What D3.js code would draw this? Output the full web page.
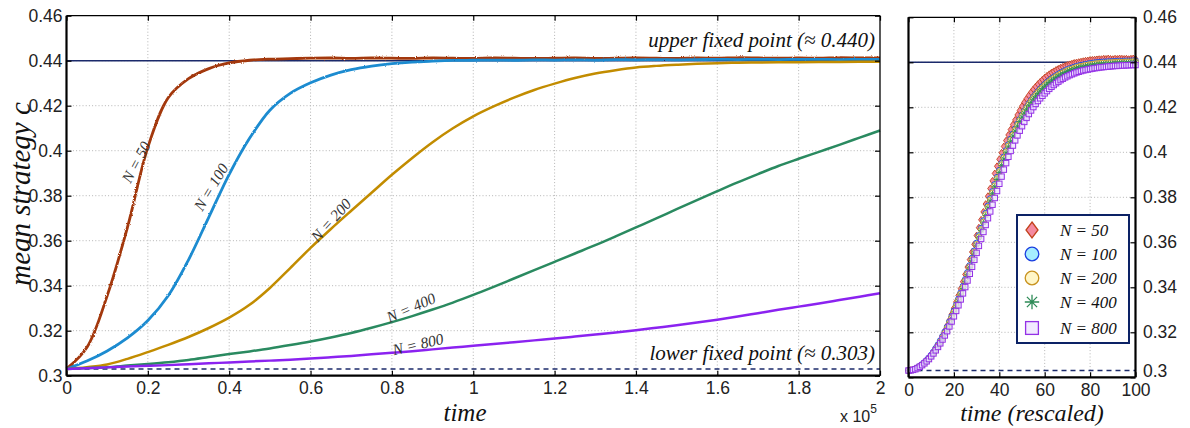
<!DOCTYPE html>
<html><head><meta charset="utf-8">
<script src="https://cdn.jsdelivr.net/npm/d3@7"></script>
<style>body{margin:0;background:#fff}</style>
</head><body>
<svg id="c" width="1190" height="428" xmlns="http://www.w3.org/2000/svg"></svg>
<script>
// ---------- data: left panel (time in units of 10^5) ----------
const timeGrid = [0,0.05,0.1,0.15,0.2,0.25,0.3,0.35,0.4,0.45,0.5,0.55,0.6,0.65,0.7,0.75,0.8,0.85,0.9,0.95,1,1.05,1.1,1.15,1.2,1.25,1.3,1.35,1.4,1.45,1.5,1.55,1.6,1.65,1.7,1.75,1.8,1.85,1.9,1.95,2];
const seriesN = ["50","100","200","400","800"];
const meanN50 = [.303,.3125,.3355,.366,.4015,.4235,.4320,.4365,.4390,.4402,.4407,.4409,.4411,.4412,.4410,.4412,.4411,.4410,.4412,.4411,.4410,.4412,.4411,.4410,.4411,.4412,.4410,.4411,.4412,.4411,.4410,.4412,.4411,.4413,.4412,.4411,.4412,.4411,.4413,.4412,.4412];
const meanN100 = [.303,.3065,.311,.3168,.3245,.3355,.3515,.3705,.3895,.4055,.4180,.4255,.4302,.4336,.4360,.4376,.4387,.4394,.4398,.4401,.4402,.4403,.4402,.4404,.4403,.4404,.4403,.4405,.4404,.4405,.4404,.4405,.4406,.4405,.4406,.4405,.4406,.4406,.4405,.4406,.4406];
const meanN200 = [.303,.3038,.305,.3075,.3105,.3137,.3172,.3212,.3258,.3315,.3390,.3478,.3568,.3652,.3733,.3813,.3893,.3968,.4038,.4100,.4153,.4197,.4236,.4270,.4298,.4323,.4343,.4358,.4370,.4377,.4382,.4386,.4389,.4391,.4392,.4393,.4393,.4394,.4394,.4395,.4395];
const meanN400 = [.303,.3034,.3038,.3045,.3052,.3060,.3070,.3083,.3096,.3108,.3121,.3136,.3152,.3170,.3190,.3213,.3238,.3265,.3294,.3325,.3359,.3395,.3432,.3469,.3506,.3543,.3580,.3619,.3659,.3699,.3740,.3780,.3820,.3859,.3896,.3932,.3964,.3995,.4026,.4058,.4090];
const meanN800 = [.303,.3033,.3037,.3041,.3044,.3047,.3051,.3055,.3059,.3063,.3067,.3071,.3076,.3082,.3088,.3095,.3102,.3109,.3117,.3125,.3133,.3141,.3149,.3157,.3165,.3174,.3183,.3192,.3202,.3213,.3224,.3236,.3249,.3263,.3278,.3293,.3307,.3321,.3336,.3351,.3366];
const upperFixed = 0.440, lowerFixed = 0.303;
// curve label anchors (time, value) and angles
const labelT = [0.171,0.355,0.650,0.847,0.864];
const labelV = [0.395,0.3839,0.3692,0.3303,0.3141];
const labelAngle = [-62,-59,-48,-24,-13];

// ---------- data: right panel (rescaled time 0..100) ----------
const rescaledTime = d3.range(0, 101, 1);
const resN50 = [.3030,.3032,.3035,.3039,.3044,.3050,.3057,.3065,.3075,.3086,.3098,.3112,.3128,.3145,.3164,.3185,.3207,.3230,.3254,.3280,.3307,.3335,.3364,.3394,.3425,.3457,.3490,.3523,.3557,.3591,.3630,.3665,.3700,.3735,.3770,.3805,.3839,.3873,.3906,.3938,.3969,.3998,.4026,.4052,.4077,.4101,.4123,.4144,.4166,.4186,.4205,.4222,.4238,.4253,.4267,.4280,.4292,.4303,.4313,.4323,.4332,.4340,.4347,.4354,.4360,.4366,.4371,.4376,.4380,.4384,.4388,.4391,.4394,.4397,.4399,.4401,.4403,.4405,.4407,.4408,.4410,.4411,.4412,.4413,.4414,.4414,.4416,.4415,.4417,.4415,.4414,.4416,.4415,.4417,.4416,.4415,.4416,.4414,.4416,.4417,.4415];
const resN100 = [.3030,.3031,.3034,.3038,.3043,.3050,.3057,.3066,.3076,.3087,.3099,.3113,.3129,.3145,.3163,.3182,.3202,.3223,.3246,.3270,.3295,.3321,.3348,.3376,.3405,.3435,.3466,.3497,.3530,.3562,.3597,.3630,.3663,.3696,.3729,.3762,.3794,.3826,.3857,.3889,.3920,.3951,.3980,.4008,.4034,.4059,.4082,.4104,.4126,.4146,.4165,.4183,.4200,.4216,.4231,.4245,.4258,.4270,.4281,.4292,.4302,.4311,.4319,.4327,.4334,.4341,.4347,.4353,.4358,.4363,.4368,.4372,.4375,.4379,.4382,.4385,.4387,.4389,.4391,.4393,.4395,.4396,.4398,.4399,.4400,.4401,.4402,.4402,.4403,.4403,.4404,.4404,.4405,.4405,.4405,.4406,.4406,.4406,.4406,.4407,.4407];
const resN200 = [.3030,.3031,.3034,.3037,.3042,.3048,.3055,.3063,.3073,.3083,.3095,.3109,.3124,.3140,.3157,.3176,.3196,.3217,.3240,.3264,.3289,.3315,.3342,.3370,.3399,.3429,.3460,.3491,.3524,.3556,.3591,.3624,.3657,.3690,.3723,.3756,.3788,.3820,.3851,.3883,.3914,.3945,.3974,.4002,.4028,.4053,.4076,.4098,.4120,.4141,.4160,.4178,.4195,.4211,.4226,.4240,.4253,.4265,.4276,.4287,.4297,.4306,.4314,.4322,.4329,.4336,.4342,.4348,.4353,.4358,.4363,.4367,.4370,.4374,.4377,.4380,.4382,.4384,.4386,.4388,.4390,.4391,.4393,.4394,.4395,.4396,.4397,.4397,.4398,.4398,.4399,.4400,.4400,.4401,.4401,.4401,.4402,.4402,.4402,.4403,.4403];
const resN400 = [.3030,.3031,.3033,.3036,.3041,.3046,.3052,.3060,.3069,.3079,.3091,.3105,.3120,.3136,.3153,.3172,.3192,.3213,.3236,.3260,.3285,.3311,.3338,.3366,.3395,.3425,.3456,.3487,.3520,.3552,.3587,.3620,.3653,.3686,.3719,.3752,.3784,.3816,.3847,.3879,.3910,.3941,.3970,.3998,.4024,.4049,.4072,.4094,.4116,.4137,.4156,.4174,.4191,.4207,.4222,.4236,.4249,.4261,.4272,.4283,.4293,.4302,.4310,.4318,.4325,.4332,.4338,.4344,.4349,.4354,.4359,.4363,.4366,.4370,.4373,.4376,.4378,.4380,.4382,.4384,.4386,.4387,.4389,.4390,.4391,.4392,.4393,.4393,.4394,.4394,.4395,.4396,.4396,.4397,.4397,.4397,.4398,.4398,.4398,.4399,.4399];
const resN800 = [.3030,.3031,.3033,.3036,.3041,.3047,.3054,.3062,.3071,.3081,.3093,.3106,.3120,.3135,.3151,.3168,.3186,.3205,.3226,.3248,.3271,.3295,.3320,.3346,.3373,.3401,.3430,.3460,.3491,.3522,.3553,.3584,.3615,.3646,.3677,.3707,.3737,.3767,.3797,.3828,.3860,.3892,.3923,.3952,.3980,.4006,.4030,.4053,.4075,.4096,.4116,.4135,.4153,.4170,.4186,.4201,.4215,.4228,.4240,.4251,.4262,.4272,.4282,.4291,.4299,.4307,.4314,.4321,.4327,.4333,.4338,.4343,.4347,.4351,.4355,.4358,.4361,.4364,.4366,.4368,.4370,.4372,.4374,.4375,.4377,.4378,.4379,.4380,.4381,.4382,.4383,.4384,.4384,.4385,.4386,.4386,.4387,.4387,.4388,.4388,.4388];

// ---------- ticks ----------
const leftXTicks = [0,0.2,0.4,0.6,0.8,1,1.2,1.4,1.6,1.8,2];
const leftXLabels = ["0","0.2","0.4","0.6","0.8","1","1.2","1.4","1.6","1.8","2"];
const yTicks = [0.3,0.32,0.34,0.36,0.38,0.4,0.42,0.44,0.46];
const yLabels = ["0.3","0.32","0.34","0.36","0.38","0.4","0.42","0.44","0.46"];
const rightXTicks = [0,20,40,60,80,100];
const rightXLabels = ["0","20","40","60","80","100"];

// ---------- styles ----------
const lineColors = ["#A3380B","#1B8BD0","#C28C05","#2A8A60","#8B24F0"];
const lineRough = [2.6,2.2,1.4,1.0,1.0];
const navy = "#1B2A6B";
const tickFont = "Liberation Sans";
const serif = "Liberation Serif";

const svg = d3.select("#c");
svg.append("rect").attr("width",1190).attr("height",428).attr("fill","#fff");

// roughening filters to mimic the stochastic jitter of simulated trajectories
const defs = svg.append("defs");
lineRough.forEach((sc,k) => {
  const f = defs.append("filter").attr("id","rough"+k).attr("x","-2%").attr("y","-10%").attr("width","104%").attr("height","120%");
  f.append("feTurbulence").attr("type","fractalNoise").attr("baseFrequency","0.9 0.9").attr("numOctaves",1).attr("seed",k+3).attr("result","n");
  f.append("feDisplacementMap").attr("in","SourceGraphic").attr("in2","n").attr("scale",sc).attr("xChannelSelector","R").attr("yChannelSelector","G");
});

const L = {x0:66.5, x1:880, y0:15.7, y1:375.7};
const R = {x0:908.5, x1:1135.5, y0:17.3, y1:377.3};

const xL = d3.scaleLinear().domain([0,2]).range([L.x0,L.x1]);
const yL = d3.scaleLinear().domain([0.3,0.46]).range([L.y1,L.y0]);
const xR = d3.scaleLinear().domain([0,100]).range([R.x0,R.x1]);
const yR = d3.scaleLinear().domain([0.3,0.46]).range([R.y1,R.y0]);

function grid(P, xs, ys, xt, yt) {
  const g = svg.append("g").attr("stroke","#b4b4b4").attr("stroke-width",1).attr("stroke-dasharray","1,2.2");
  xt.forEach(t => { const x = xs(t); if (x > P.x0+1 && x < P.x1-1) g.append("line").attr("x1",x).attr("x2",x).attr("y1",P.y0).attr("y2",P.y1); });
  yt.forEach(t => { const y = ys(t); if (y > P.y0+1 && y < P.y1-1) g.append("line").attr("x1",P.x0).attr("x2",P.x1).attr("y1",y).attr("y2",y); });
}
grid(L, xL, yL, leftXTicks, yTicks);
grid(R, xR, yR, rightXTicks, yTicks);

// fixed point lines
[[L,xL,yL,[0,2]],[R,xR,yR,[0,100]]].forEach(([P,xs,ys,dom]) => {
  svg.append("line").attr("x1",xs(dom[0])).attr("x2",xs(dom[1])).attr("y1",ys(upperFixed)).attr("y2",ys(upperFixed))
    .attr("stroke",navy).attr("stroke-width",1.6);
  svg.append("line").attr("x1",xs(dom[0])).attr("x2",xs(dom[1])).attr("y1",ys(lowerFixed)).attr("y2",ys(lowerFixed))
    .attr("stroke",navy).attr("stroke-width",1.4).attr("stroke-dasharray","5,4");
});

// left curves
const leftSeries = [meanN50, meanN100, meanN200, meanN400, meanN800];
const line = d3.line().x((d,i)=>xL(timeGrid[i])).y(d=>yL(d)).curve(d3.curveCatmullRom.alpha(0.5));
leftSeries.forEach((s,k) => {
  svg.append("path").attr("d", line(s)).attr("fill","none").attr("stroke",lineColors[k])
    .attr("stroke-width",k<2?2.8:2.5).attr("stroke-linejoin","round").attr("filter",`url(#rough${k})`);
});

// curve labels
seriesN.forEach((n,k) => {
  svg.append("text").attr("transform",`translate(${xL(labelT[k])},${yL(labelV[k])}) rotate(${labelAngle[k]})`)
    .attr("text-anchor","middle").attr("dominant-baseline","central")
    .attr("font-family",serif).attr("font-style","italic").attr("font-size",15.5).attr("fill","#333")
    .text(`N = ${n}`);
});

// fixed point annotations
svg.append("text").attr("x",875).attr("y",yL(upperFixed)-14).attr("text-anchor","end")
  .attr("font-family",serif).attr("font-style","italic").attr("font-size",21).attr("fill","#111")
  .text("upper fixed point (\u2248 0.440)");
svg.append("text").attr("x",875).attr("y",yL(lowerFixed)-9).attr("text-anchor","end")
  .attr("font-family",serif).attr("font-style","italic").attr("font-size",21).attr("fill","#111")
  .text("lower fixed point (\u2248 0.303)");

// right panel markers
const markerStyles = [
  {type:"diamond", fill:"#F48AA0", stroke:"#C2421C"},
  {type:"circle", fill:"#A6EEFF", stroke:"#1A3FE0"},
  {type:"circle", fill:"#FFF6C8", stroke:"#C8921E"},
  {type:"star", fill:"none", stroke:"#2E8B57"},
  {type:"square", fill:"#ECE2FF", stroke:"#9431E6"}
];
function drawMarker(g, st, x, y, s) {
  if (st.type === "diamond") {
    g.append("path").attr("d",`M${x},${y-s}L${x+s*0.75},${y}L${x},${y+s}L${x-s*0.75},${y}Z`)
      .attr("fill",st.fill).attr("stroke",st.stroke).attr("stroke-width",s>5?1.3:0.9);
  } else if (st.type === "circle") {
    g.append("circle").attr("cx",x).attr("cy",y).attr("r",s*0.85).attr("fill",st.fill).attr("stroke",st.stroke).attr("stroke-width",s>5?1.3:0.9);
  } else if (st.type === "square") {
    g.append("rect").attr("x",x-s*0.8).attr("y",y-s*0.8).attr("width",s*1.6).attr("height",s*1.6)
      .attr("fill",st.fill).attr("fill-opacity",0.75).attr("stroke",st.stroke).attr("stroke-width",s>5?1.3:1);
  } else {
    let d = "";
    [0,45,90,135].forEach(a => { const r=a*Math.PI/180, dx=Math.cos(r)*s*0.9, dy=Math.sin(r)*s*0.9; d += `M${x-dx},${y-dy}L${x+dx},${y+dy}`; });
    g.append("path").attr("d",d).attr("stroke",st.stroke).attr("stroke-width",s>5?1.3:0.9).attr("fill","none");
  }
}
const rightSeries = [resN50, resN100, resN200, resN400, resN800];
rightSeries.forEach((s,k) => {
  const g = svg.append("g");
  s.forEach((v,i) => drawMarker(g, markerStyles[k], xR(rescaledTime[i]), yR(v), 3.4));
});

// legend
const lg = svg.append("g");
lg.append("rect").attr("x",1017).attr("y",215).attr("width",112).attr("height",128).attr("fill","#fff").attr("stroke","#0C2265").attr("stroke-width",2);
const legY = [230,254,278,302,328];
seriesN.forEach((n,k) => {
  drawMarker(lg, markerStyles[k], 1032, legY[k], 8);
  lg.append("text").attr("x",1060).attr("y",legY[k]).attr("dominant-baseline","central")
    .attr("font-family",serif).attr("font-style","italic").attr("font-size",17).attr("fill","#111").text(`N = ${n}`);
});

// axes
function axes(P, xs, ys, xt, xl, yt, yl, yRight) {
  const gx = svg.append("g").attr("transform",`translate(0,${P.y1})`)
    .call(d3.axisBottom(xs).tickValues(xt).tickFormat((d,i)=>xl[i]).tickSize(-5).tickPadding(6));
  const gxt = svg.append("g").attr("transform",`translate(0,${P.y0})`)
    .call(d3.axisTop(xs).tickValues(xt).tickFormat("").tickSize(-5));
  const yAx = yRight ? d3.axisRight(ys) : d3.axisLeft(ys);
  const gy = svg.append("g").attr("transform",`translate(${yRight?P.x1:P.x0},0)`)
    .call(yAx.tickValues(yt).tickFormat((d,i)=>yl[i]).tickSize(-5).tickPadding(yRight?7.5:4));
  const oAx = yRight ? d3.axisLeft(ys) : d3.axisRight(ys);
  const gy2 = svg.append("g").attr("transform",`translate(${yRight?P.x0:P.x1},0)`)
    .call(oAx.tickValues(yt).tickFormat("").tickSize(-5));
  [gx,gxt,gy,gy2].forEach(g => {
    g.select(".domain").remove();
    g.selectAll("line").attr("stroke","#000").attr("stroke-width",1.2);
    g.selectAll("text").attr("font-family",tickFont).attr("font-size",17.5).attr("fill","#222");
  });
  if (yRight) gy.selectAll("text").filter((d,i)=>i===0).attr("dy","-0.05em");
  // frame
  const f = svg.append("g").attr("fill","none").attr("stroke","#000");
  f.append("line").attr("x1",P.x0).attr("x2",P.x1).attr("y1",P.y0).attr("y2",P.y0).attr("stroke-width",1.3);
  f.append("line").attr("x1",P.x0).attr("x2",P.x1).attr("y1",P.y1).attr("y2",P.y1).attr("stroke-width",2.2);
  f.append("line").attr("x1",P.x0).attr("x2",P.x0).attr("y1",P.y0).attr("y2",P.y1).attr("stroke-width",2.2);
  f.append("line").attr("x1",P.x1).attr("x2",P.x1).attr("y1",P.y0).attr("y2",P.y1).attr("stroke-width",yRight?2.2:1.3);
}
axes(L, xL, yL, leftXTicks, leftXLabels, yTicks, yLabels, false);
axes(R, xR, yR, rightXTicks, rightXLabels, yTicks, yLabels, true);

// axis titles
svg.append("text").attr("transform","translate(30,194) rotate(-90)").attr("text-anchor","middle")
  .attr("font-family",serif).attr("font-style","italic").attr("font-size",29).attr("fill","#111").text("mean strategy c");
svg.append("text").attr("x",465).attr("y",421).attr("text-anchor","middle")
  .attr("font-family",serif).attr("font-style","italic").attr("font-size",25).attr("fill","#111").text("time");
svg.append("text").attr("x",1032).attr("y",421).attr("text-anchor","middle")
  .attr("font-family",serif).attr("font-style","italic").attr("font-size",24).attr("fill","#111").text("time (rescaled)");
const ex = svg.append("text").attr("x",840).attr("y",422).attr("font-family",tickFont).attr("font-size",16).attr("fill","#222");
ex.append("tspan").text("x 10");
ex.append("tspan").attr("dy",-9).attr("font-size",12).text("5");
</script>
</body></html>
